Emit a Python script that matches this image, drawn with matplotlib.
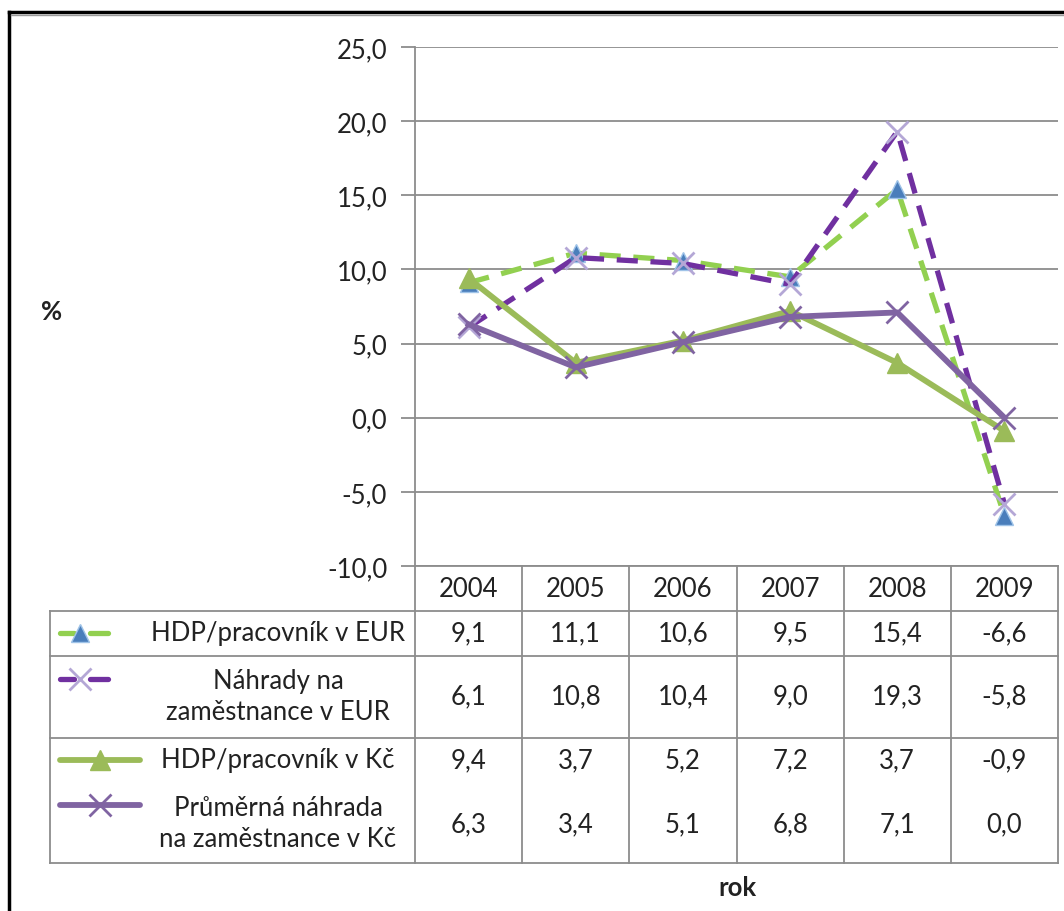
import matplotlib.pyplot as plt
import numpy as np

# data (percent)
years = ['2004', '2005', '2006', '2007', '2008', '2009']
hdp_eur = [9.1, 11.1, 10.6, 9.5, 15.4, -6.6]
nahrady_eur = [6.1, 10.8, 10.4, 9.0, 19.3, -5.8]
hdp_kc = [9.4, 3.7, 5.2, 7.2, 3.7, -0.9]
nahrada_kc = [6.3, 3.4, 5.1, 6.8, 7.1, 0.0]

labels = ['HDP/pracovník v EUR', 'Náhrady na\nzaměstnance v EUR',
          'HDP/pracovník v Kč', 'Průměrná náhrada\nna zaměstnance v Kč']
yticks = [25, 20, 15, 10, 5, 0, -5, -10]

plt.rcParams['font.family'] = ['Lato', 'DejaVu Sans']
FS = 18.5

W, H = 1064, 912
fig = plt.figure(figsize=(W / 100, H / 100), dpi=100)

# plot area in pixels
x0, x1, ytop, ybot = 415, 1058, 48, 567
ax = fig.add_axes([x0 / W, 1 - ybot / H, (x1 - x0) / W, (ybot - ytop) / H])
ax.set_xlim(-0.5, 5.5)
ax.set_ylim(-10, 25)
ax.set_yticks(yticks)
ax.set_yticklabels([f'{v:.1f}'.replace('.', ',') for v in yticks], fontsize=FS, color='#222222')
ax.set_xticks([])
ax.yaxis.grid(True, color='#8c8c8c', lw=1.3)
ax.set_axisbelow(True)
for s in ['top', 'right', 'bottom']:
    ax.spines[s].set_visible(False)
ax.spines['left'].set_color('#8c8c8c')
ax.spines['left'].set_linewidth(1.3)
ax.tick_params(axis='y', length=10, width=1.3, color='#8c8c8c', pad=10)

x = np.arange(len(years))
styles = [
    dict(color='#92D050', ls=(0, (4, 2.4)), lw=3.8, marker='^', ms=13, mfc='#4A7EBB', mec='#9FC3E8', mew=1),
    dict(color='#7030A0', ls=(0, (4, 2.4)), lw=3.8, marker='x', ms=16, mec='#B4A7D6', mew=2),
    dict(color='#9BBB59', ls='-', lw=4.2, marker='^', ms=15, mfc='#9BBB59', mec='#9BBB59'),
    dict(color='#8064A2', ls='-', lw=4.2, marker='x', ms=16, mec='#8064A2', mew=2),
]
series = [hdp_eur, nahrady_eur, hdp_kc, nahrada_kc]
for vals, st in zip(series, styles):
    ax.plot(x, vals, **st, clip_on=False)

# overlay in pixel coordinates for table, labels and frame
ov = fig.add_axes([0, 0, 1, 1])
ov.set_xlim(0, W)
ov.set_ylim(H, 0)
ov.axis('off')
ov.patch.set_alpha(0)

gc = '#8c8c8c'
colw = (x1 - x0) / len(years)
lx0 = 50
rows = [612, 657, 739, 864]
ov.plot([x0, x1], [ybot, ybot], color=gc, lw=1.3)
for yy in rows:
    ov.plot([lx0, x1], [yy, yy], color=gc, lw=1.3)
for i in range(len(years) + 1):
    ov.plot([x0 + i * colw, x0 + i * colw], [ybot, rows[-1]], color=gc, lw=1.3)
ov.plot([lx0, lx0], [rows[0], rows[-1]], color=gc, lw=1.3)

for i, yr in enumerate(years):
    ov.text(x0 + (i + 0.5) * colw, 590, yr, ha='center', va='center', fontsize=FS, color='#222222')

val_y = [634, 697, 761, 825]
lab_y = [634, 697, 761, 824]
key_y = [634, 680, 761, 806]
for r, (vals, lab) in enumerate(zip(series, labels)):
    for i, v in enumerate(vals):
        ov.text(x0 + (i + 0.5) * colw, val_y[r], f'{v:.1f}'.replace('.', ','),
                ha='center', va='center', fontsize=FS, color='#222222')
    ov.text(278, lab_y[r], lab, ha='center', va='center', fontsize=FS,
            color='#222222', linespacing=1.3)
    st = styles[r]
    mk = {k: v for k, v in st.items() if k not in ('color', 'ls', 'lw')}
    if r < 2:
        ov.plot([60, 74], [key_y[r], key_y[r]], color=st['color'], lw=st['lw'], solid_capstyle='round')
        ov.plot([90, 108], [key_y[r], key_y[r]], color=st['color'], lw=st['lw'], solid_capstyle='round')
        ov.plot([80], [key_y[r]], ls='none', **mk)
    else:
        ov.plot([60, 140], [key_y[r], key_y[r]], color=st['color'], lw=st['lw'], solid_capstyle='round')
        ov.plot([100], [key_y[r]], ls='none', **mk)

ov.text(52, 312, '%', ha='center', va='center', fontsize=FS, fontweight='bold', color='#222222')
ov.text(737, 888, 'rok', ha='center', va='center', fontsize=FS, fontweight='bold', color='#222222')

# outer frame (left and top)
ov.plot([9, 9], [H, 13], color='black', lw=2.5, solid_capstyle='projecting')
ov.plot([9, W], [13, 13], color='black', lw=2.5, solid_capstyle='projecting')
ov.plot([11, W], [16, 16], color='#999999', lw=1)

fig.savefig('out.png', dpi=100)
